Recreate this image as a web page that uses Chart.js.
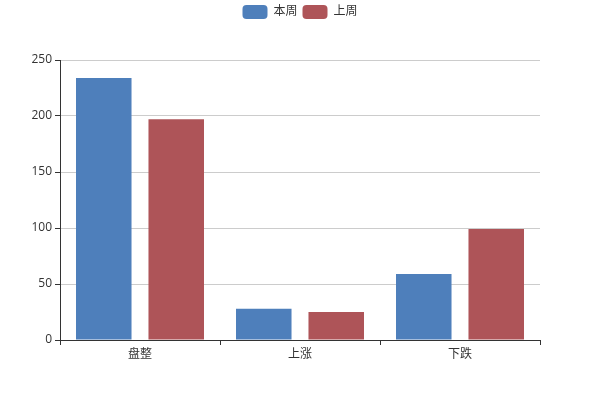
<!DOCTYPE html>
<html>
<head>
<meta charset="utf-8">
<style>
  html, body { margin: 0; padding: 0; background: #fff; }
  #wrap { width: 600px; height: 400px; }
</style>
<script src="https://cdn.jsdelivr.net/npm/chart.js@4/dist/chart.umd.min.js"></script>
</head>
<body>
<div id="wrap"><canvas id="barChart" width="600" height="400"></canvas></div>
<script>
// --- data ---
const categories = ['盘整', '上涨', '下跌'];
const thisWeek = [234, 28, 59];
const lastWeek = [197, 25, 99];
const yTicks = [0, 50, 100, 150, 200, 250];

const FONT = '"Open Sans", "Noto Sans CJK SC", sans-serif';

const ctx = document.getElementById('barChart').getContext('2d');

// make the legend block take the full 60px band above the plot
const legendHeight = {
    id: 'legendHeight',
    beforeInit(chart) {
        const legend = chart.legend;
        if (!legend) return;
        const origFit = legend.fit;
        legend.fit = function () {
            origFit.call(this);
            this.height = 60;
        };
    }
};

new Chart(ctx, {
    type: 'bar',
    data: {
        labels: categories,
        datasets: [
            {
                label: '本周',
                data: thisWeek,
                backgroundColor: '#4e7fbb',
                categoryPercentage: 0.906,
                barPercentage: 0.766
            },
            {
                label: '上周',
                data: lastWeek,
                backgroundColor: '#ae5458',
                categoryPercentage: 0.906,
                barPercentage: 0.766
            }
        ]
    },
    plugins: [legendHeight],
    options: {
        responsive: false,
        animation: false,
        layout: { padding: 0 },
        plugins: {
            legend: {
                position: 'top',
                labels: {
                    boxWidth: 25,
                    boxHeight: 14,
                    useBorderRadius: true,
                    borderRadius: 4,
                    padding: 5,
                    color: '#333',
                    font: { family: FONT, size: 12 }
                }
            },
            tooltip: { enabled: false }
        },
        scales: {
            x: {
                grid: {
                    drawOnChartArea: false,
                    color: '#333',
                    tickLength: 5
                },
                border: { color: '#333' },
                ticks: { color: '#333', padding: 2, font: { family: FONT, size: 12 } },
                afterFit: scale => { scale.height = 60; }
            },
            y: {
                min: 0,
                max: 250,
                afterBuildTicks: scale => {
                    scale.ticks = yTicks.map(v => ({ value: v }));
                },
                grid: {
                    color: '#cccccc',
                    tickColor: '#333',
                    tickLength: 5
                },
                border: { color: '#333' },
                ticks: { color: '#333', padding: 3, font: { family: FONT, size: 12 } },
                afterFit: scale => { scale.width = 60; }
            },
            // empty right margin
            yRight: {
                position: 'right',
                grid: { display: false },
                border: { display: false },
                ticks: { display: false },
                afterFit: scale => { scale.width = 60; }
            }
        }
    }
});
</script>
</body>
</html>
